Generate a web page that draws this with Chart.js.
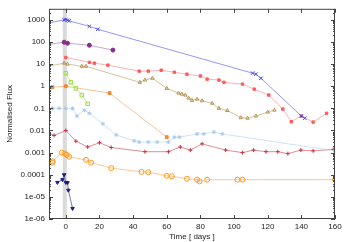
<!DOCTYPE html>
<html>
<head>
<meta charset="utf-8">
<script src="https://cdn.jsdelivr.net/npm/chart.js@4.4.1/dist/chart.umd.min.js"></script>
<style>html,body{margin:0;padding:0;background:#fff}</style>
</head>
<body>
<canvas id="c" width="346" height="242"></canvas>
<script>
// x ticks / y ticks
const xTickValues = [0, 20, 40, 60, 80, 100, 120, 140, 160];
const yTickValues = [1e-6, 1e-5, 1e-4, 1e-3, 1e-2, 0.1, 1, 10, 100, 1000];
const yTickLabels = ['1e-06', '1e-05', '0.0001', '0.001', '0.01', '0.1', '1', '10', '100', '1000'];
const bandStart = -1.8, bandEnd = 0.6;

// series (days, normalised flux)
const blueDays = [-12, -1, 0, 1, 2, 14, 19, 111, 113, 116, 140, 142];
const blueFlux = [680, 1000, 1050, 950, 900, 510, 375, 3.9, 3.5, 2.3, 0.045, 0.036];

const purpleDays = [-12, -1, 1, 14, 28];
const purpleFlux = [74, 98, 88, 71, 43];

const pinkDays = [0, 14, 17, 25, 43.6, 49, 56.7, 64.5, 72, 80, 84, 91, 94, 105, 112, 120.6, 129, 134, 140, 147, 155];
const pinkFlux = [20, 12, 11, 9, 4.8, 4.8, 5.3, 4.3, 3.5, 2.9, 2.1, 1.9, 1.5, 1.25, 0.74, 0.4, 0.093, 0.025, 0.045, 0.024, 0.06];

const tanDays = [-12, -1, 1, 9.5, 12, 44, 47, 51.5, 60, 67, 69, 71, 73, 75, 78, 81, 87, 91, 96, 104, 108, 113, 120, 124];
const tanFlux = [7.6, 11, 10, 8, 8, 1.5, 1.9, 2.3, 0.8, 0.49, 0.44, 0.4, 0.29, 0.23, 0.26, 0.22, 0.17, 0.1, 0.08, 0.038, 0.036, 0.045, 0.068, 0.083];

const greenDays = [0, 3, 6, 9.5, 13];
const greenFlux = [3.9, 1.5, 0.8, 0.4, 0.16];

const orangeDays = [-8, 0, 26, 60];
const orangeFlux = [0.9, 1.0, 0.49, 0.005];

const skyDays = [-8, -4, 0, 4, 6.6, 11, 14, 22, 30, 40.6, 43.6, 49, 54.3, 61, 64.5, 67.5, 78, 82, 88, 93, 160];
const skyFlux = [0.1, 0.1, 0.1, 0.1, 0.045, 0.083, 0.06, 0.02, 0.0063, 0.0034, 0.003, 0.003, 0.003, 0.003, 0.005, 0.005, 0.007, 0.007, 0.0085, 0.007, 0.0012];

const redDays = [-10, -7, 0, 6, 13, 20, 27, 47, 61, 68, 74, 81, 95, 105, 111.6, 119, 126, 132, 139.7, 147, 159];
const redFlux = [0.007, 0.006, 0.01, 0.0033, 0.0018, 0.0028, 0.0017, 0.0011, 0.0011, 0.0018, 0.0013, 0.0025, 0.0013, 0.001, 0.0013, 0.0011, 0.0011, 0.0009, 0.0013, 0.0012, 0.0014];

const circDays = [-8, -7.8, -2.4, -0.6, 0.6, 2, 12, 15, 27, 45, 49, 60, 63, 72, 78, 79.5, 84, 102, 105, 160];
const circFlux = [0.00035, 0.0004, 0.001, 0.0009, 0.0008, 0.00065, 0.00047, 0.00035, 0.0002, 0.000135, 0.00013, 0.00009, 0.000085, 0.000066, 0.00006, 0.00005, 0.00006, 0.00006, 0.00006, 0.00006];

const navyDays = [-5, -2, -1, 0, 1, 1.5, 4];
const navyFlux = [0.000045, 0.00006, 0.0001, 0.000045, 0.000044, 0.00002, 0.000003];

function pts(days, flux) {
    return days.map((d, i) => ({x: d, y: flux[i]}));
}

// line colour is a faded version of the marker colour
function series(days, flux, color, line, style, opts) {
    return Object.assign({
        data: pts(days, flux),
        borderColor: line,
        backgroundColor: color,
        pointBorderColor: color,
        pointBackgroundColor: color,
        borderWidth: 0.8,
        pointStyle: style,
        pointRadius: 2,
        pointBorderWidth: 1,
        tension: 0,
        clip: 0
    }, opts || {});
}

const frame = {
    id: 'frame',
    beforeDatasetsDraw(chart) {
        const {ctx, chartArea: a, scales: {x}} = chart;
        const x0 = x.getPixelForValue(bandStart), x1 = x.getPixelForValue(bandEnd);
        ctx.save();
        ctx.fillStyle = '#dadada';
        ctx.fillRect(x0, a.top, x1 - x0, a.bottom - a.top);
        ctx.restore();
    },
    afterDraw(chart) {
        const {ctx, chartArea: a, scales: {x, y}} = chart;
        ctx.save();
        ctx.strokeStyle = '#444';
        ctx.lineWidth = 1;
        ctx.strokeRect(a.left + 0.5, a.top + 0.5, a.right - a.left - 1, a.bottom - a.top - 1);
        ctx.beginPath();
        xTickValues.forEach(v => {
            const px = Math.round(x.getPixelForValue(v)) + 0.5;
            ctx.moveTo(px, a.bottom); ctx.lineTo(px, a.bottom - 4);
            ctx.moveTo(px, a.top); ctx.lineTo(px, a.top + 4);
        });
        for (let e = -6; e <= 3; e++) {
            for (let m = 1; m <= 9; m++) {
                const v = m * Math.pow(10, e);
                if (v > y.max) break;
                const len = m === 1 ? 4 : 2;
                const py = Math.round(y.getPixelForValue(v)) + 0.5;
                ctx.moveTo(a.left, py); ctx.lineTo(a.left + len, py);
                ctx.moveTo(a.right, py); ctx.lineTo(a.right - len, py);
            }
        }
        ctx.stroke();
        ctx.restore();
    }
};

const font = {family: '"Liberation Sans", Arial, sans-serif', size: 8};
const none = 'rgba(0,0,0,0)';

new Chart(document.getElementById('c'), {
    type: 'line',
    data: {
        datasets: [
            series(blueDays, blueFlux, '#4848f0', 'rgba(90,90,240,0.8)', 'crossRot', {pointRadius: 2.5}),
            series(purpleDays, purpleFlux, '#8a2c8a', 'rgba(170,90,170,0.7)', 'circle'),
            series(pinkDays, pinkFlux, '#ff5a5a', 'rgba(255,120,120,0.7)', 'rect', {pointRadius: 1.7}),
            series(tanDays, tanFlux, '#b89450', 'rgba(190,160,100,0.8)', 'triangle', {pointBackgroundColor: none}),
            series(greenDays, greenFlux, '#98dc40', 'rgba(170,230,100,0.9)', 'rect', {pointBackgroundColor: none, pointRadius: 2.5}),
            series(orangeDays, orangeFlux, '#f08a30', 'rgba(240,160,100,0.8)', 'rect'),
            series(skyDays, skyFlux, '#a8c8f0', 'rgba(180,210,240,0.8)', 'star'),
            series(redDays, redFlux, '#c83040', 'rgba(200,80,90,0.8)', 'cross'),
            series(circDays, circFlux, '#ff9a20', 'rgba(255,170,80,0.8)', 'circle', {pointBackgroundColor: none, pointRadius: 2.5}),
            series(navyDays, navyFlux, '#1c1c80', 'rgba(40,40,130,0.8)', 'triangle', {pointRotation: 180})
        ]
    },
    options: {
        responsive: false,
        animation: false,
        devicePixelRatio: 1,
        layout: {padding: {left: 0, top: 8, right: 11, bottom: 0}},
        plugins: {legend: {display: false}, tooltip: {enabled: false}},
        scales: {
            x: {
                type: 'linear',
                min: -10,
                max: 160,
                afterBuildTicks: s => { s.ticks = xTickValues.map(v => ({value: v})); },
                afterFit: s => { s.height = 23; },
                grid: {display: false, drawTicks: false},
                border: {display: false},
                ticks: {autoSkip: false, maxRotation: 0, padding: 3, color: '#222', font: font},
                title: {display: true, text: 'Time [ days ]', color: '#222', font: font, padding: {top: 0, bottom: 0}}
            },
            y: {
                type: 'logarithmic',
                min: 1e-6,
                max: Math.pow(10, 3.5),
                afterBuildTicks: s => { s.ticks = yTickValues.map(v => ({value: v})); },
                afterFit: s => { s.width = 49; },
                grid: {display: false, drawTicks: false},
                border: {display: false},
                ticks: {
                    autoSkip: false,
                    padding: 4,
                    color: '#222',
                    font: font,
                    callback: (v) => {
                        const i = yTickValues.findIndex(t => Math.abs(Math.log10(t) - Math.log10(v)) < 1e-6);
                        return i >= 0 ? yTickLabels[i] : '';
                    }
                },
                title: {display: true, text: 'Normalised Flux', color: '#222', font: font, padding: {top: 5, bottom: 0}}
            }
        }
    },
    plugins: [frame]
});
</script>
</body>
</html>
